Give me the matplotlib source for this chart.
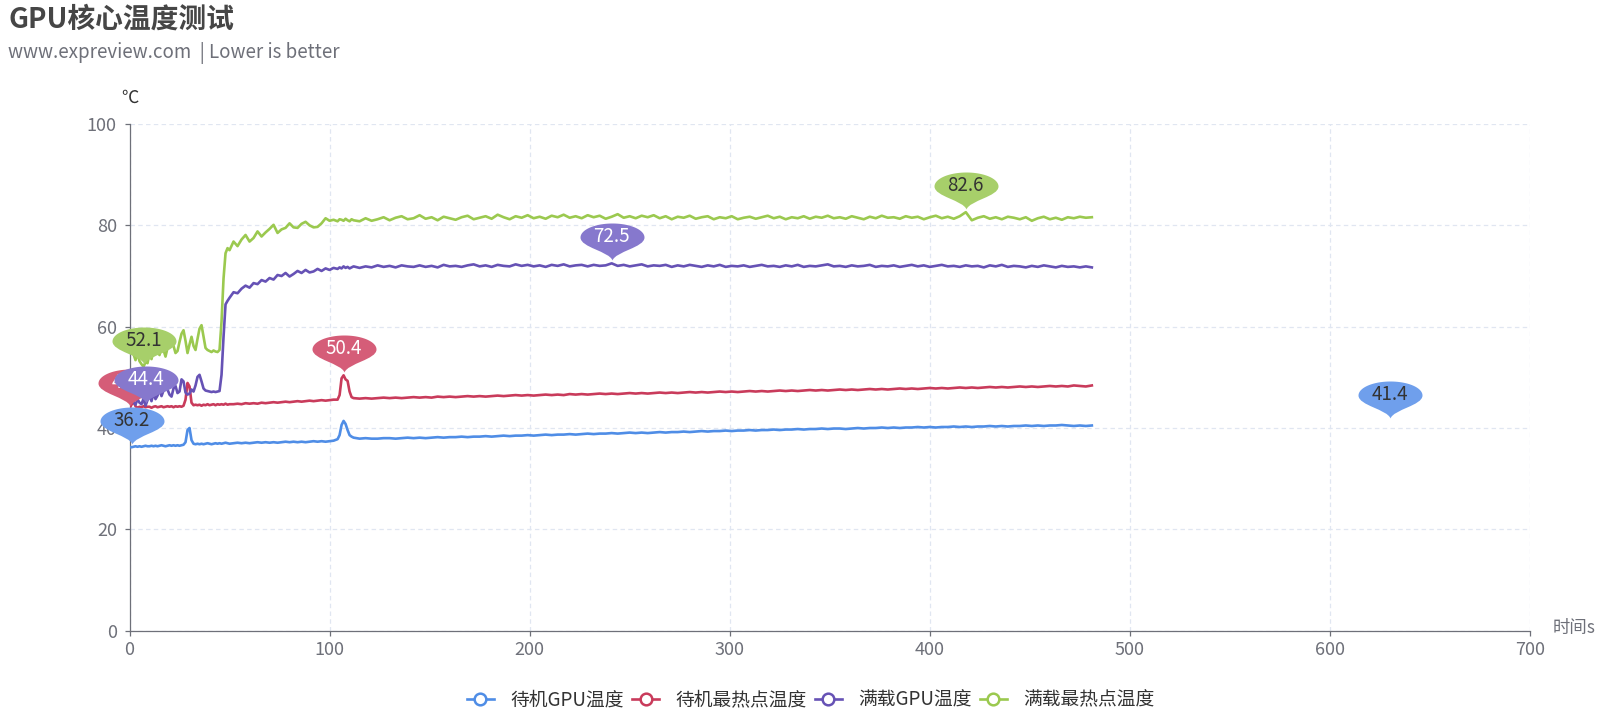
import numpy as np
import matplotlib
matplotlib.use('Agg')
import matplotlib.pyplot as plt
from matplotlib.path import Path
from matplotlib.lines import Line2D

plt.rcParams['font.family'] = ['Noto Sans CJK SC', 'DejaVu Sans']
plt.rcParams['lines.scale_dashes'] = False

# ---- data ----
# sampling times [s]: 1 s early on, 2 s in the ramp-up, 1 s around the spike, 3 s afterwards
t = np.concatenate([np.arange(0, 51), np.arange(52, 105, 2),
                    np.arange(105, 113), np.arange(115, 482, 3)])

idle_gpu = [
    36.3, 36.2, 36.3, 36.4, 36.3, 36.4, 36.3, 36.4, 36.5, 36.4,
    36.4, 36.5, 36.4, 36.5, 36.4, 36.5, 36.6, 36.5, 36.4, 36.5,
    36.6, 36.5, 36.6, 36.5, 36.6, 36.5, 36.6, 36.7, 37.2, 39.6,
    40.0, 37.6, 36.9, 36.8, 36.9, 36.8, 36.9, 36.8, 36.9, 37.0,
    36.9, 36.8, 36.9, 37.0, 36.9, 37.0, 36.9, 37.0, 37.1, 37.0,
    36.9,
    37.0, 37.1, 37.0, 37.1, 37.0, 37.1, 37.2, 37.1, 37.2, 37.1,
    37.2, 37.1, 37.2, 37.3, 37.2, 37.3, 37.2, 37.3, 37.2, 37.3,
    37.4, 37.3, 37.4, 37.3, 37.4, 37.5, 37.8,
    38.6, 40.6, 41.4, 40.8, 39.6, 38.6, 38.3, 38.1,
    37.9, 38.0, 37.9, 37.9, 38.0, 38.0, 37.9, 38.0, 38.1, 38.0,
    38.1, 38.0, 38.1, 38.2, 38.1, 38.2, 38.2, 38.3, 38.2, 38.3,
    38.3, 38.4, 38.3, 38.4, 38.5, 38.4, 38.5, 38.5, 38.6, 38.5,
    38.6, 38.7, 38.6, 38.7, 38.7, 38.8, 38.7, 38.8, 38.9, 38.8,
    38.9, 38.9, 39.0, 38.9, 39.0, 39.1, 39.0, 39.1, 39.0, 39.1,
    39.2, 39.1, 39.2, 39.2, 39.3, 39.2, 39.3, 39.4, 39.3, 39.4,
    39.4, 39.5, 39.4, 39.5, 39.5, 39.6, 39.5, 39.6, 39.6, 39.7,
    39.6, 39.7, 39.7, 39.8, 39.7, 39.8, 39.8, 39.9, 39.8, 39.9,
    39.9, 39.8, 39.9, 40.0, 39.9, 40.0, 40.0, 40.1, 40.0, 40.1,
    40.0, 40.1, 40.1, 40.2, 40.1, 40.2, 40.1, 40.2, 40.2, 40.3,
    40.2, 40.3, 40.2, 40.3, 40.3, 40.4, 40.3, 40.4, 40.3, 40.4,
    40.4, 40.5, 40.4, 40.5, 40.4, 40.5, 40.5, 40.6, 40.5, 40.4,
    40.5, 40.4, 40.5,
]

idle_hot = [
    43.8, 44.6, 45.2, 44.3, 44.0, 44.2, 44.1, 44.3, 44.1, 44.2,
    44.2, 44.0, 44.2, 44.3, 44.1, 44.2, 44.3, 44.1, 44.2, 44.3,
    44.2, 44.3, 44.1, 44.3, 44.2, 44.3, 44.2, 44.4, 45.6, 48.9,
    48.2, 45.0, 44.5, 44.6, 44.5, 44.6, 44.4, 44.6, 44.5, 44.7,
    44.5, 44.6, 44.7, 44.5, 44.7, 44.6, 44.7, 44.6, 44.8, 44.6,
    44.7,
    44.7, 44.8, 44.7, 44.9, 44.8, 44.9, 44.8, 45.0, 44.9, 45.0,
    45.1, 45.0, 45.1, 45.2, 45.1, 45.2, 45.3, 45.2, 45.3, 45.4,
    45.3, 45.4, 45.5, 45.4, 45.5, 45.6, 45.6,
    46.5, 49.8, 50.4, 49.6, 49.3, 47.2, 46.1, 45.9,
    45.8, 45.9, 45.8, 45.9, 46.0, 45.9, 46.0, 45.9, 46.0, 46.1,
    46.0, 46.1, 46.0, 46.2, 46.1, 46.2, 46.1, 46.2, 46.3, 46.2,
    46.3, 46.2, 46.3, 46.4, 46.3, 46.4, 46.5, 46.4, 46.5, 46.4,
    46.5, 46.6, 46.5, 46.6, 46.5, 46.7, 46.6, 46.7, 46.6, 46.7,
    46.8, 46.7, 46.8, 46.7, 46.8, 46.9, 46.8, 46.9, 46.8, 46.9,
    47.0, 46.9, 47.0, 46.9, 47.0, 47.1, 47.0, 47.1, 47.0, 47.1,
    47.2, 47.1, 47.2, 47.1, 47.2, 47.3, 47.2, 47.3, 47.2, 47.3,
    47.4, 47.3, 47.4, 47.3, 47.4, 47.5, 47.4, 47.5, 47.4, 47.5,
    47.6, 47.5, 47.6, 47.5, 47.6, 47.7, 47.6, 47.7, 47.6, 47.7,
    47.8, 47.7, 47.8, 47.7, 47.8, 47.9, 47.8, 47.9, 47.8, 47.9,
    48.0, 47.9, 48.0, 47.9, 48.0, 48.1, 48.0, 48.1, 48.0, 48.1,
    48.2, 48.1, 48.2, 48.1, 48.2, 48.3, 48.2, 48.3, 48.2, 48.4,
    48.3, 48.2, 48.4,
]

load_gpu = [
    45.6, 46.4, 45.1, 44.6, 45.7, 45.0, 44.7, 45.8, 44.4, 45.5,
    46.5, 45.3, 46.9, 45.7, 46.4, 47.6, 46.3, 47.4, 48.4, 47.6,
    46.6, 46.2, 47.8, 48.3, 46.9, 47.2, 49.6, 49.2, 47.0, 46.6,
    46.8, 47.6, 47.2, 48.4, 50.1, 50.5, 49.2, 47.8, 47.4, 47.3,
    47.2, 47.1, 47.2, 47.1, 47.2, 47.3, 50.5, 58.0, 64.4, 65.1,
    65.7,
    66.8, 66.6, 67.5, 68.1, 67.7, 68.6, 68.4, 69.2, 68.9, 69.6,
    69.3, 70.2, 70.0, 70.6, 69.9, 70.4, 71.0, 70.6, 71.2, 70.7,
    70.9, 71.4, 71.0, 71.5, 71.2, 71.6, 71.4,
    71.7, 71.5, 71.9, 71.6, 71.8, 71.5, 71.7, 71.9,
    71.6, 71.9, 71.7, 72.1, 71.8, 72.0, 71.7, 72.1, 71.9, 71.8,
    72.1, 71.8, 72.0, 71.7, 72.2, 71.9, 72.0, 71.8, 72.1, 72.3,
    71.9, 72.1, 71.8, 72.2, 72.0, 71.9, 72.3, 72.0, 72.2, 71.9,
    72.1, 71.8, 72.2, 72.0, 72.3, 71.9, 72.1, 72.2, 71.9, 72.2,
    72.0, 72.1, 72.5, 72.0, 72.2, 71.9, 72.1, 72.3, 71.9, 72.1,
    72.0, 72.2, 71.8, 72.1, 71.9, 72.2, 72.0, 71.8, 72.1, 71.9,
    72.2, 71.8, 72.0, 71.9, 72.1, 71.8, 72.0, 72.2, 71.9, 72.0,
    71.8, 72.1, 71.9, 72.2, 71.8, 72.0, 71.9, 72.1, 72.3, 71.9,
    72.0, 71.8, 72.1, 71.9, 72.0, 72.2, 71.8, 72.0, 71.9, 72.1,
    71.8, 72.0, 72.2, 71.9, 72.1, 71.8, 72.0, 72.2, 71.9, 72.0,
    71.8, 72.1, 71.9, 72.0, 71.7, 72.1, 71.9, 72.2, 71.8, 72.0,
    71.9, 71.7, 72.0, 71.8, 72.1, 71.9, 71.7, 72.0, 71.8, 71.9,
    71.7, 71.9, 71.7,
]

load_hot = [
    56.5, 55.8, 54.6, 53.4, 54.8, 53.2, 52.6, 52.1, 53.0, 52.8,
    54.6, 53.6, 55.5, 56.8, 55.2, 54.4, 56.0, 55.4, 54.1, 55.8,
    56.7, 57.6, 56.2, 54.8, 55.2, 57.0, 58.6, 59.3, 57.2, 54.8,
    56.5, 58.0, 56.2, 55.4, 57.6, 59.6, 60.3, 58.0, 55.8, 55.4,
    55.2, 55.0, 55.3, 55.1, 55.0, 55.4, 61.0, 69.5, 74.5, 75.5,
    75.1,
    76.8, 75.9, 77.2, 78.1, 76.8, 77.5, 78.8, 77.8, 78.6, 79.3,
    80.1, 78.5, 79.2, 79.5, 80.4, 79.6, 79.5, 80.3, 80.7, 80.0,
    79.6, 79.7, 80.4, 81.4, 80.9, 81.1, 80.8,
    81.2, 81.1, 80.9, 81.3, 81.0, 80.8, 81.2, 81.0,
    80.8, 81.4, 80.9, 81.2, 81.6, 81.0, 81.5, 81.8, 81.2, 81.4,
    82.0, 81.3, 81.6, 81.0, 81.7, 81.4, 81.1, 81.6, 81.9, 81.2,
    81.5, 81.8, 81.3, 82.1, 81.6, 81.2, 81.8, 81.5, 82.0, 81.4,
    81.7, 81.3, 81.9, 81.6, 82.1, 81.5, 81.8, 81.4, 82.0, 81.6,
    81.9, 81.3, 81.7, 82.2, 81.5, 81.8, 81.4, 81.9, 81.6, 82.0,
    81.4, 81.8, 81.2, 81.7, 81.5, 81.9, 81.3, 81.6, 81.8, 81.2,
    81.6, 81.4, 81.8, 81.2, 81.5, 81.7, 81.3, 81.6, 81.9, 81.4,
    81.7, 81.2, 81.6, 81.4, 81.8, 81.3, 81.7, 81.5, 81.9, 81.4,
    81.6, 81.3, 81.8, 81.5, 81.2, 81.7, 81.4, 81.9, 81.5, 81.6,
    81.3, 81.8, 81.5, 81.7, 81.2, 81.6, 81.9, 81.4, 81.7, 81.3,
    81.8, 82.6, 81.0, 81.5, 81.8, 81.3, 81.6, 81.2, 81.7, 81.5,
    81.2, 81.6, 80.9, 81.4, 81.7, 81.2, 81.5, 81.1, 81.6, 81.4,
    81.7, 81.5, 81.6,
]

names = ['待机GPU温度', '待机最热点温度', '满载GPU温度', '满载最热点温度']
series = [idle_gpu, idle_hot, load_gpu, load_hot]

# mark points (min / max pins) as they sit in the reference: series index, time, value
mark_series = [0, 0, 1, 1, 2, 2, 3, 3]
mark_t = [1, 630, 0, 107, 8, 241, 7, 418]
mark_v = [36.2, 41.4, 43.8, 50.4, 44.4, 72.5, 52.1, 82.6]

line_colors = ['#4f8de6', '#c93b5b', '#6652b5', '#9bc94f']
pin_colors = ['#6f9fec', '#d55d78', '#8678cd', '#a7cf6a']
pin_text = ['#333333', '#ffffff', '#ffffff', '#333333']

# ---- pin marker, built in pixels relative to the data point ----
def pin_path(a=32.0, b=14.0, cy=26.0, tip=3.0):
    ang = np.radians(np.linspace(180, 0, 50))
    ex = a * np.cos(ang)
    ey = cy + b * np.sin(ang)
    verts = [(0, tip), (-3, tip + 9), (-a, cy - 10), (-a, cy)]
    codes = [Path.MOVETO, Path.CURVE4, Path.CURVE4, Path.CURVE4]
    for x, y in zip(ex[1:], ey[1:]):
        verts.append((x, y))
        codes.append(Path.LINETO)
    verts += [(a, cy - 10), (3, tip + 9), (0, tip), (0, tip)]
    codes += [Path.CURVE4, Path.CURVE4, Path.CURVE4, Path.CLOSEPOLY]
    return Path(np.array(verts), codes)

DPI = 100
pin = pin_path()
pin_ms = 2 * np.max(np.abs(pin.vertices)) * 72 / DPI

fig = plt.figure(figsize=(16.2, 7.2), dpi=DPI)
ax = fig.add_axes([129.5 / 1620, 1 - 630.7 / 720, (1530 - 129.5) / 1620, (630.7 - 124) / 720])

for s, c in zip(series, line_colors):
    ax.plot(t, s, color=c, lw=1.9, solid_joinstyle='round', zorder=3)

ax.set_xlim(0, 700)
ax.set_ylim(0, 100)
ax.set_xticks(np.arange(0, 701, 100))
ax.set_yticks(np.arange(0, 101, 20))

axis_c = '#6e7079'
for side in ['top', 'right']:
    ax.spines[side].set_visible(False)
for side in ['left', 'bottom']:
    ax.spines[side].set_color(axis_c)
    ax.spines[side].set_linewidth(0.9)
ax.tick_params(direction='out', length=3.6, width=0.9, color=axis_c,
               labelcolor=axis_c, labelsize=13)
ax.tick_params(axis='y', pad=5.5)
ax.tick_params(axis='x', pad=3.5)
ax.grid(True, color='#e0e6f1', lw=0.9, dashes=(3.2, 2.4), zorder=0)
ax.set_axisbelow(True)

# axis names
ax.annotate('℃', xy=(0, 1), xycoords='axes fraction', xytext=(0, 19),
            textcoords='offset points', ha='center', va='center',
            fontsize=12.5, color='#333333')
ax.annotate('时间s', xy=(1, 0), xycoords='axes fraction', xytext=(16, 2),
            textcoords='offset points', ha='left', va='center',
            fontsize=12.5, color='#6e7079')

# pins
z = 10
for i, tt, vv in zip(mark_series, mark_t, mark_v):
    ax.plot([tt], [vv], linestyle='none', marker=pin, markersize=pin_ms,
            markerfacecolor=pin_colors[i], markeredgewidth=0, clip_on=False,
            zorder=z)
    ax.annotate('{:.1f}'.format(vv), xy=(tt, vv), xytext=(0, 19),
                textcoords='offset points', ha='center', va='center',
                fontsize=13.5, color=pin_text[i], zorder=z + 1,
                annotation_clip=False)
    z += 2

# titles
fig.text(8 / 1620, 1 - 20 / 720, 'GPU核心温度测试', fontsize=20, fontweight='bold',
         color='#464646', ha='left', va='center')
fig.text(8 / 1620, 1 - 53 / 720, 'www.expreview.com  | Lower is better', fontsize=13.5,
         color='#6e7079', ha='left', va='center')

# legend
handles = [Line2D([], [], color=c, lw=1.9, marker='o', markersize=8.4,
                  markerfacecolor='white', markeredgewidth=1.8, markeredgecolor=c)
           for c in line_colors]
fig.legend(handles, names, loc='center', bbox_to_anchor=(810.5 / 1620, 1 - 700 / 720),
           ncol=4, frameon=False, fontsize=13.5, handlelength=1.45,
           handletextpad=0.85, columnspacing=0.45, labelcolor='#333333')

fig.savefig('out.png', dpi=DPI)
